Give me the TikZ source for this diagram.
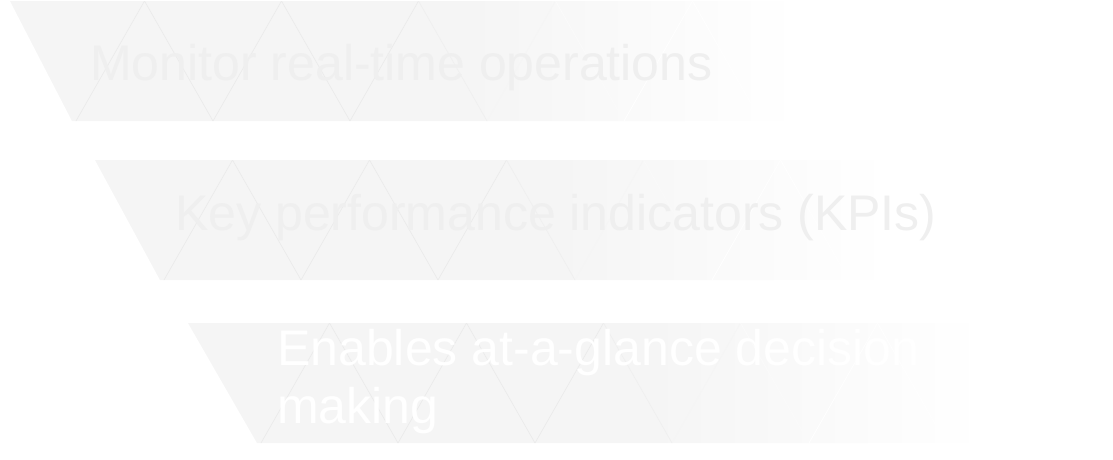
\documentclass[tikz,border=0pt]{standalone}
\usepackage{fontspec}
\setmainfont{Liberation Sans}
\definecolor{bandgray}{HTML}{F5F5F5}
\definecolor{zigline}{HTML}{EBEBEB}
\definecolor{labelgray}{HTML}{EFEFEF}
% grey band that fades out to white towards its right end
\pgfdeclarehorizontalshading{bandfade}{100bp}{color(0bp)=(bandgray); color(25bp)=(bandgray); color(54bp)=(bandgray); color(75bp)=(white); color(100bp)=(white)}
\tikzset{
  bandlabel/.style={font=\fontsize{50}{58}\selectfont, inner sep=0pt, anchor=base west, align=left},
}
% #1 top-left x, #2 bottom-left x, #3 top y, #4 right x, #5 name
\newcommand\drawband[5]{%
  \path[shading=bandfade] (#1,#3) coordinate (#5-tl) -- (#4,#3) coordinate (#5-tr)
        -- (#4,#3+120) coordinate (#5-br) -- (#2,#3+120) coordinate (#5-bl) -- cycle;
  \begin{scope}
    \clip (#5-tl) -- (#5-tr) -- (#5-br) -- (#5-bl) -- cycle;
    \foreach \i in {0,...,6}{
      \pgfmathsetmacro\xa{#2+4+137*\i}
      \pgfmathsetmacro\xb{\xa+68.5}
      \pgfmathsetmacro\xc{\xa+137}
      \pgfmathsetmacro\pa{max(0,min(100,100*(1-(((\xa+34)-#1)/(#4-#1)-0.5)/0.3)))}
      \pgfmathsetmacro\pb{max(0,min(100,100*(1-(((\xb+34)-#1)/(#4-#1)-0.5)/0.3)))}
      \draw[zigline!\pa!white, line width=0.7pt] (\xa,#3+120) -- (\xb,#3);
      \draw[zigline!\pb!white, line width=0.7pt] (\xb,#3) -- (\xc,#3+120);
    }
  \end{scope}
}
\begin{document}
\begin{tikzpicture}[x=1pt,y=-1pt]
\useasboundingbox (0,0) rectangle (1113,459);
\drawband{10}{72}{1}{800}{b1}
\drawband{95}{160}{160}{890}{b2}
\drawband{188}{257}{323}{985}{b3}
\node[bandlabel, text=labelgray] (t1) at (90,80) {Monitor real-time operations};
\node[bandlabel, text=labelgray] (t2) at (175,230) {Key performance indicators (KPIs)};
% a multi-line label sits on the baseline of its last line
\node[bandlabel, text=white] (t3) at (277,423) {Enables at-a-glance decision\\making};
\end{tikzpicture}
\end{document}
